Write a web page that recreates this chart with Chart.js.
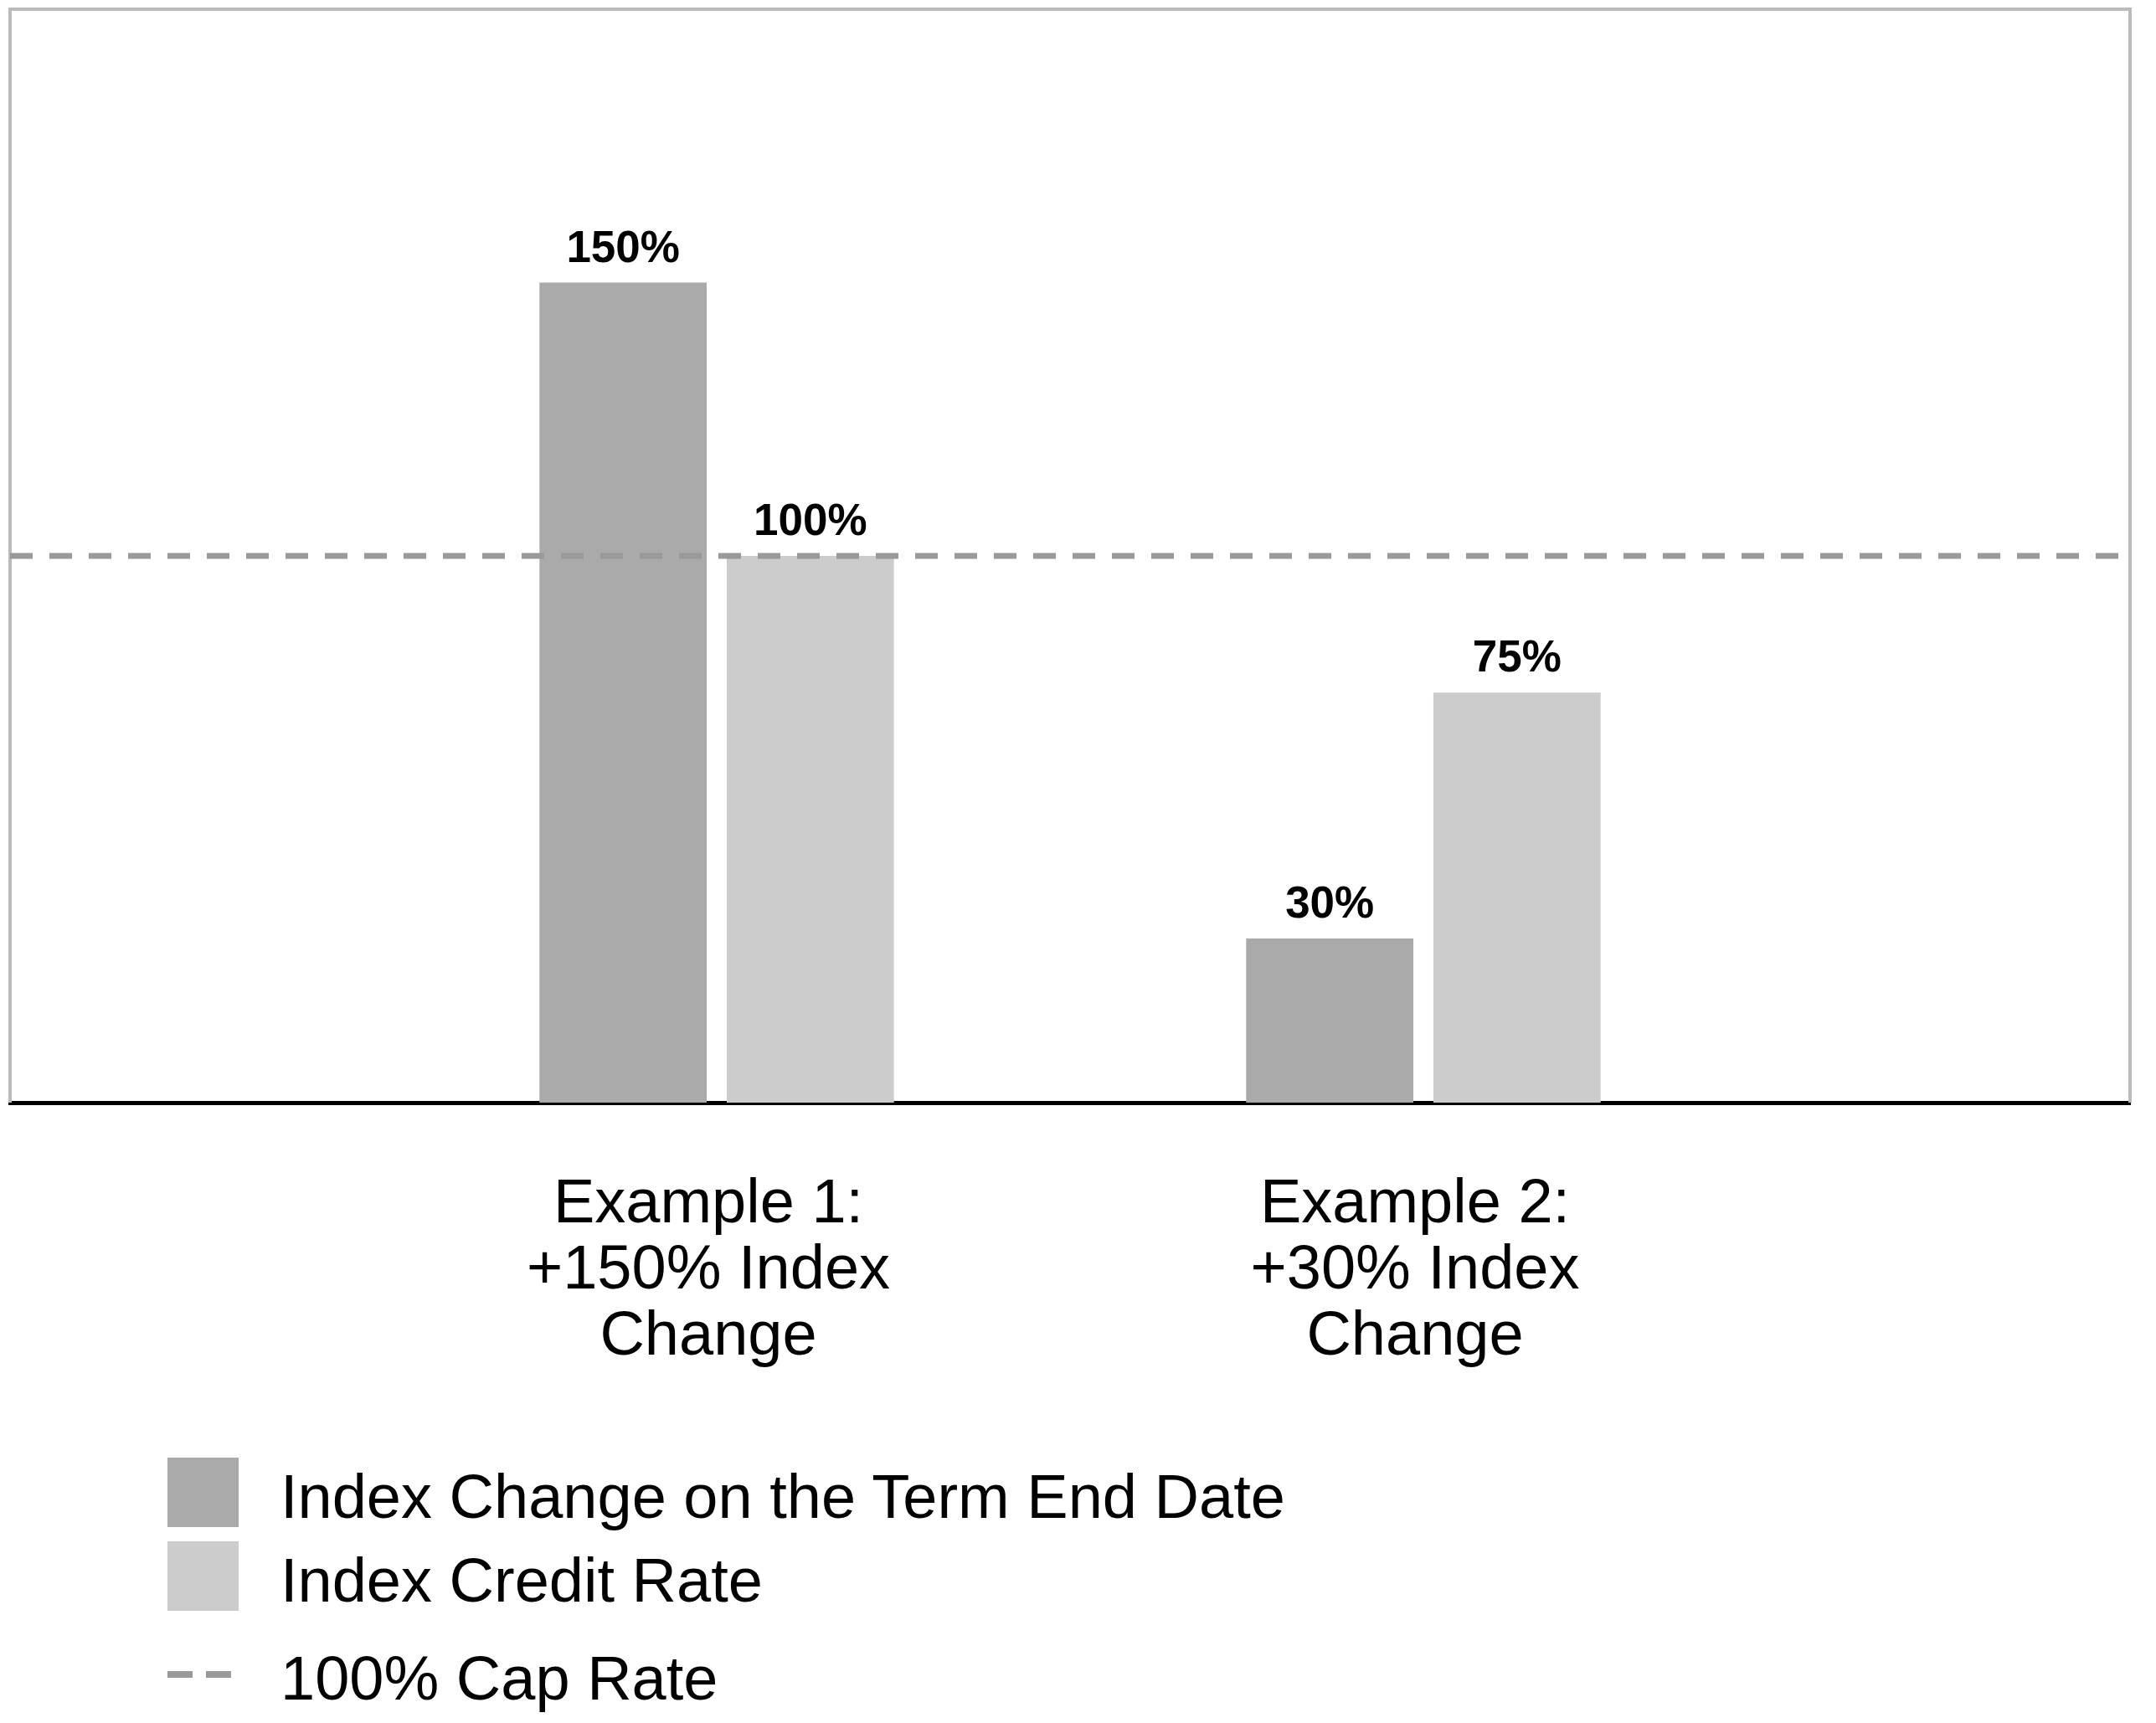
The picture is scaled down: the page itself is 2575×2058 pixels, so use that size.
<!DOCTYPE html>
<html>
<head>
<meta charset="utf-8">
<script src="https://cdn.jsdelivr.net/npm/chart.js@4.4.1/dist/chart.umd.min.js"></script>
<style>
    html, body { margin: 0; padding: 0; background: #fff; }
    #wrap { position: relative; width: 2575px; height: 2058px; }
    #chartBox { position: absolute; left: 0; top: 0; width: 2575px; height: 1637px; }
    #legend {
        position: absolute; left: 200px; top: 1741px;
        font-family: "Liberation Sans", Arial, sans-serif; font-size: 74px; color: #000;
    }
    .item { display: flex; align-items: center; height: 83px; margin-bottom: 17px; }
    .item.line { margin-top: 34px; }
    .swatch { width: 85px; height: 83px; margin-right: 50px; flex: none; }
    .dashes { width: 85px; height: 8px; margin-right: 50px; flex: none; }
    .label { padding-top: 10px; white-space: nowrap; }
</style>
</head>
<body>
<div id="wrap">
    <div id="chartBox"><canvas id="capChart"></canvas></div>
    <div id="legend"></div>
</div>
<script>
// Data
const categories = ['', ['Example 1:', '+150% Index', 'Change'], ['Example 2:', '+30% Index', 'Change'], ''];
const indexChange = [null, 150, 30, null];
const creditRate = [null, 100, 75, null];
const capRate = [100, 100, 100, 100];
const seriesNames = ['Index Change on the Term End Date', 'Index Credit Rate', '100% Cap Rate'];
const yMin = 0;
const yMax = 200;

const darkGray = '#aaaaaa';
const lightGray = '#cccccc';
const dashGray = '#999999';
const fontFamily = '"Liberation Sans", Arial, sans-serif';
const tickLine = 79;
const tickPad = 83;

// light gray frame round the plot (bottom side is the black x axis)
const framePlugin = {
    id: 'frame',
    beforeDatasetsDraw(chart) {
        const { ctx, chartArea } = chart;
        ctx.save();
        ctx.strokeStyle = '#bbbbbb';
        ctx.lineWidth = 4;
        ctx.beginPath();
        ctx.moveTo(chartArea.left, chartArea.bottom);
        ctx.lineTo(chartArea.left, chartArea.top);
        ctx.lineTo(chartArea.right, chartArea.top);
        ctx.lineTo(chartArea.right, chartArea.bottom);
        ctx.stroke();
        ctx.restore();
    }
};

// value labels above the bars
const valueLabels = {
    id: 'valueLabels',
    afterDatasetsDraw(chart) {
        const { ctx } = chart;
        ctx.save();
        ctx.font = 'bold 53px ' + fontFamily;
        ctx.fillStyle = '#000';
        ctx.textAlign = 'center';
        ctx.textBaseline = 'alphabetic';
        chart.data.datasets.forEach((ds, i) => {
            if (ds.type !== 'bar') return;
            const meta = chart.getDatasetMeta(i);
            meta.data.forEach((bar, j) => {
                const v = ds.data[j];
                if (v === null) return;
                ctx.fillText(v + '%', bar.x, bar.y - 25);
            });
        });
        ctx.restore();
    }
};

const chart = new Chart(document.getElementById('capChart'), {
    data: {
        labels: categories,
        datasets: [
            {
                type: 'line',
                label: seriesNames[2],
                data: capRate,
                borderColor: dashGray,
                borderWidth: 7,
                borderDash: [27, 20],
                pointRadius: 0,
                fill: false,
                order: 0
            },
            {
                type: 'bar',
                label: seriesNames[0],
                data: indexChange,
                backgroundColor: darkGray,
                categoryPercentage: 0.53,
                barPercentage: 0.893,
                order: 1
            },
            {
                type: 'bar',
                label: seriesNames[1],
                data: creditRate,
                backgroundColor: lightGray,
                categoryPercentage: 0.53,
                barPercentage: 0.893,
                order: 1
            }
        ]
    },
    options: {
        responsive: true,
        maintainAspectRatio: false,
        animation: false,
        layout: { padding: { left: 12, right: 31, top: 11, bottom: 0 } },
        plugins: {
            legend: { display: false },
            tooltip: { enabled: false }
        },
        scales: {
            x: {
                offset: false,
                grid: { display: false, drawTicks: false },
                border: { display: true, color: '#000', width: 5 },
                ticks: {
                    autoSkip: false,
                    maxRotation: 0,
                    padding: tickPad,
                    labelOffset: -10,
                    color: '#000',
                    font: { family: fontFamily, size: 74, lineHeight: tickLine + 'px' }
                },
                afterFit(scale) {
                    // keep the tick padding from widening the plot sideways
                    scale.paddingLeft = 0;
                    scale.paddingRight = 0;
                    scale.height = tickPad + 3 * tickLine;
                }
            },
            y: {
                display: false,
                min: yMin,
                max: yMax
            }
        }
    },
    plugins: [framePlugin, valueLabels]
});

// HTML legend built from the datasets
const legendEl = document.getElementById('legend');
[1, 2, 0].forEach(i => {
    const ds = chart.data.datasets[i];
    const row = document.createElement('div');
    row.className = 'item' + (ds.type === 'line' ? ' line' : '');
    const mark = document.createElement('div');
    if (ds.type === 'line') {
        mark.className = 'dashes';
        mark.style.background = `linear-gradient(to right, ${ds.borderColor} 0 30px, transparent 30px 46px, ${ds.borderColor} 46px 76px, transparent 76px)`;
    } else {
        mark.className = 'swatch';
        mark.style.background = ds.backgroundColor;
    }
    const text = document.createElement('div');
    text.className = 'label';
    text.textContent = ds.label;
    row.appendChild(mark);
    row.appendChild(text);
    legendEl.appendChild(row);
});
</script>
</body>
</html>
